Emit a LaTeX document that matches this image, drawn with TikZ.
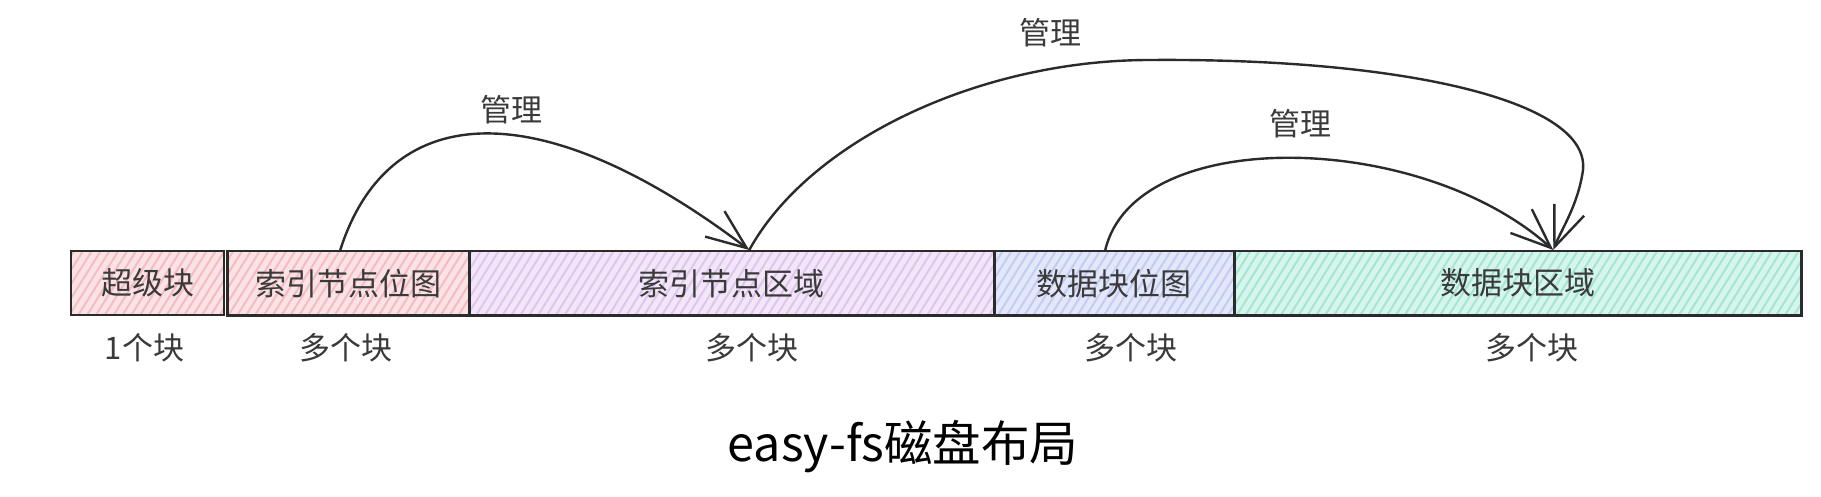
\documentclass[tikz,border=0pt]{standalone}
\usepackage{fontspec}
\setmainfont{Noto Sans CJK SC}
\usepackage{tikz}
\usetikzlibrary{positioning}
\usetikzlibrary{arrows.meta}
\usetikzlibrary{patterns.meta}

\definecolor{redbg}{HTML}{FBE3E5}
\definecolor{redln}{HTML}{F4BCC1}
\definecolor{purbg}{HTML}{F3E6F8}
\definecolor{purln}{HTML}{DEC6EE}
\definecolor{blubg}{HTML}{E3E7FA}
\definecolor{bluln}{HTML}{C3CCF1}
\definecolor{grnbg}{HTML}{D6F5EC}
\definecolor{grnln}{HTML}{A4E6D3}
\definecolor{ink}{HTML}{2B2B2B}
\definecolor{txt}{HTML}{3A3A3A}

\tikzset{
	blk/.style={draw=ink, line width=2.5pt, minimum height=64pt, inner sep=0pt,
		anchor=north west, text=txt, font=\fontsize{31}{36}\selectfont},
	hatch/.style 2 args={preaction={fill=#1},
		pattern={Lines[angle=58,distance=7.5pt,line width=2pt]}, pattern color=#2},
	cnt/.style={text=txt, inner sep=0pt, font=\fontsize{31}{36}\selectfont, below=17pt of #1.south},
	mgr/.style={-{Straight Barb[length=40pt,width=32pt]}, draw=ink, line width=2.4pt},
	lbl/.style={text=txt, inner sep=0pt, font=\fontsize{31}{36}\selectfont}
}

\begin{document}
\begin{tikzpicture}[x=1pt, y=-1pt]
	\useasboundingbox (0,0) rectangle (1821,497);
	\fill[white] (0,0) rectangle (1821,497);

	% disk blocks
	\node[blk, hatch={redbg}{redln}, minimum width=153pt] (sb) at (70,250) {超级块};
	\node[blk, hatch={redbg}{redln}, minimum width=242pt] (ibmap) at (226,250) {索引节点位图};
	\node[blk, hatch={purbg}{purln}, minimum width=525pt] (iarea) at (468,250) {索引节点区域};
	\node[blk, hatch={blubg}{bluln}, minimum width=240pt] (dbmap) at (993,250) {数据块位图};
	\node[blk, hatch={grnbg}{grnln}, minimum width=567pt] (darea) at (1233,250) {数据块区域};

	% block counts
	\node[cnt=sb, xshift=-3pt] (sbN) {1个块};
	\node[cnt=ibmap, xshift=-2pt] (ibmapN) {多个块};
	\node[cnt=iarea, xshift=20pt] (iareaN) {多个块};
	\node[cnt=dbmap, xshift=17pt] (dbmapN) {多个块};
	\node[cnt=darea, xshift=14pt] (dareaN) {多个块};

	% manage arrows
	\draw[mgr] ([xshift=-8pt]ibmap.north) .. controls (390,95) and (545,95) .. ([xshift=17.5pt]iarea.north);
	\draw[mgr] ([xshift=17.5pt]iarea.north) .. controls (810,140) and (980,60) .. (1150,60)
		.. controls (1400,58) and (1590,100) .. (1583,170)
		.. controls (1578,205) and (1562,228) .. ([xshift=35.5pt]darea.north);
	\draw[mgr] ([xshift=-9pt]dbmap.north) .. controls (1135,125) and (1420,130) .. ([xshift=35.5pt]darea.north);

	\node[lbl] (m1) at (511,110) {管理};
	\node[lbl] (m2) at (1050,33) {管理};
	\node[lbl] (m3) at (1300,124) {管理};

	\node[font=\fontsize{48.5}{58}\selectfont] (title) at (903,447) {easy-fs磁盘布局};
\end{tikzpicture}
\end{document}
